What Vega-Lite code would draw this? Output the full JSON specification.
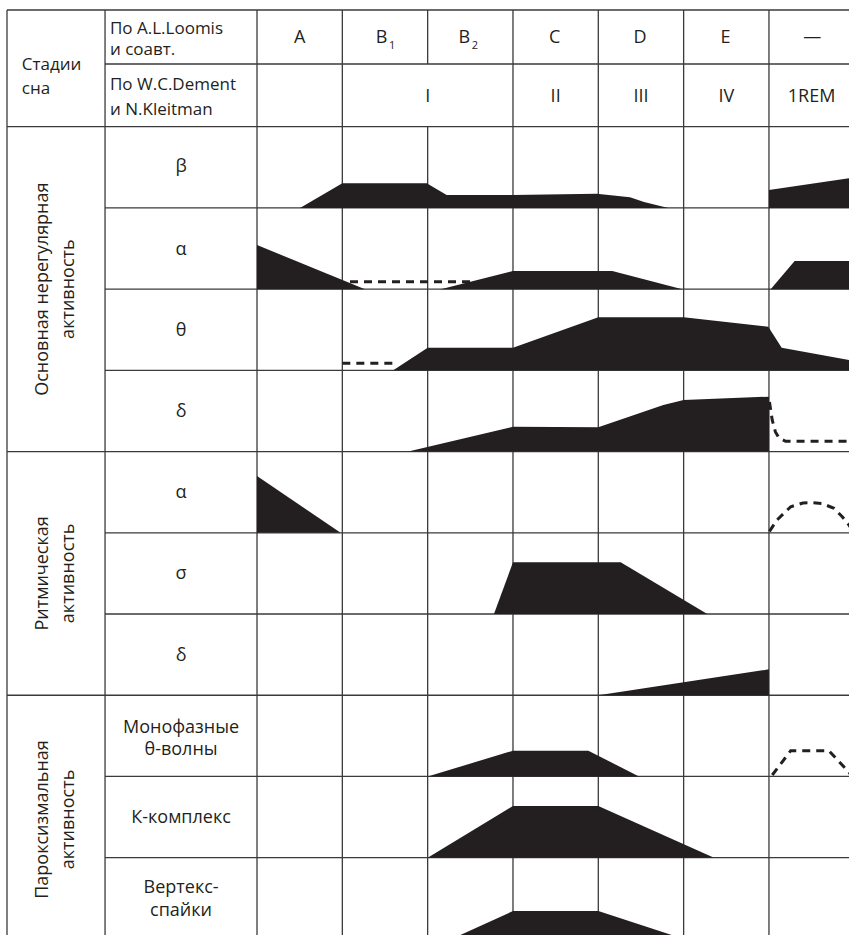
{
  "$schema": "https://vega.github.io/schema/vega-lite/v6.json",
  "width": 849,
  "height": 935,
  "autosize": {"type": "fit", "contains": "padding"},
  "padding": 0,
  "background": "white",
  "config": {"view": {"stroke": null}},
  "datasets": {
    "grid": [
      {"x": -2.93, "x2": 7, "y": -1.437, "y2": -1.437},
      {"x": -1.781, "x2": 7, "y": -0.772, "y2": -0.772},
      {"x": -2.93, "x2": 7, "y": 0, "y2": 0},
      {"x": -1.781, "x2": 7, "y": 1, "y2": 1},
      {"x": -1.781, "x2": 7, "y": 2, "y2": 2},
      {"x": -1.781, "x2": 7, "y": 3, "y2": 3},
      {"x": -2.93, "x2": 7, "y": 4, "y2": 4},
      {"x": -1.781, "x2": 7, "y": 5, "y2": 5},
      {"x": -1.781, "x2": 7, "y": 6, "y2": 6},
      {"x": -2.93, "x2": 7, "y": 7, "y2": 7},
      {"x": -1.781, "x2": 7, "y": 8, "y2": 8},
      {"x": -1.781, "x2": 7, "y": 9, "y2": 9},
      {"x": -2.93, "x2": -2.93, "y": -1.437, "y2": 10},
      {"x": -1.781, "x2": -1.781, "y": -1.437, "y2": 10},
      {"x": 0, "x2": 0, "y": -1.437, "y2": 10},
      {"x": 1, "x2": 1, "y": -1.437, "y2": 10},
      {"x": 2, "x2": 2, "y": -1.437, "y2": -0.772},
      {"x": 2, "x2": 2, "y": 0, "y2": 10},
      {"x": 3, "x2": 3, "y": -1.437, "y2": 10},
      {"x": 4, "x2": 4, "y": -1.437, "y2": 10},
      {"x": 5, "x2": 5, "y": -1.437, "y2": 10},
      {"x": 6, "x2": 6, "y": -1.437, "y2": 10}
    ],
    "areas": [
      {"id": "beta", "u": 0.504, "v": 1, "b": 1},
      {"id": "beta", "u": 1.0, "v": 0.697, "b": 1},
      {"id": "beta", "u": 1.989, "v": 0.697, "b": 1},
      {"id": "beta", "u": 2.223, "v": 0.841, "b": 1},
      {"id": "beta", "u": 3.0, "v": 0.841, "b": 1},
      {"id": "beta", "u": 3.981, "v": 0.825, "b": 1},
      {"id": "beta", "u": 4.371, "v": 0.869, "b": 1},
      {"id": "beta", "u": 4.536, "v": 0.927, "b": 1},
      {"id": "beta", "u": 4.82, "v": 1, "b": 1},
      {"id": "betaREM", "u": 6.0, "v": 0.779, "b": 1},
      {"id": "betaREM", "u": 7.0, "v": 0.625, "b": 1},
      {"id": "alphaA", "u": 0, "v": 1.457, "b": 2},
      {"id": "alphaA", "u": 1.266, "v": 2, "b": 2},
      {"id": "alphaMid", "u": 2.153, "v": 2, "b": 2},
      {"id": "alphaMid", "u": 3.0, "v": 1.777, "b": 2},
      {"id": "alphaMid", "u": 4.164, "v": 1.777, "b": 2},
      {"id": "alphaMid", "u": 4.984, "v": 2, "b": 2},
      {"id": "alphaREM", "u": 6.02, "v": 2, "b": 2},
      {"id": "alphaREM", "u": 6.301, "v": 1.654, "b": 2},
      {"id": "alphaREM", "u": 7.0, "v": 1.654, "b": 2},
      {"id": "theta", "u": 1.597, "v": 3, "b": 3},
      {"id": "theta", "u": 2.0, "v": 2.721, "b": 3},
      {"id": "theta", "u": 3.0, "v": 2.721, "b": 3},
      {"id": "theta", "u": 4.0, "v": 2.347, "b": 3},
      {"id": "theta", "u": 5.0, "v": 2.347, "b": 3},
      {"id": "theta", "u": 5.992, "v": 2.462, "b": 3},
      {"id": "theta", "u": 6.149, "v": 2.721, "b": 3},
      {"id": "theta", "u": 7.0, "v": 2.884, "b": 3},
      {"id": "delta", "u": 1.773, "v": 4, "b": 4},
      {"id": "delta", "u": 3.0, "v": 3.694, "b": 4},
      {"id": "delta", "u": 4.0, "v": 3.701, "b": 4},
      {"id": "delta", "u": 4.762, "v": 3.427, "b": 4},
      {"id": "delta", "u": 5.0, "v": 3.365, "b": 4},
      {"id": "delta", "u": 6.0, "v": 3.324, "b": 4},
      {"id": "rAlpha", "u": 0, "v": 4.301, "b": 5},
      {"id": "rAlpha", "u": 0.98, "v": 5, "b": 5},
      {"id": "sigma", "u": 2.777, "v": 6, "b": 6},
      {"id": "sigma", "u": 3.0, "v": 5.363, "b": 6},
      {"id": "sigma", "u": 4.262, "v": 5.363, "b": 6},
      {"id": "sigma", "u": 5.277, "v": 6, "b": 6},
      {"id": "rDelta", "u": 4.0, "v": 7, "b": 7},
      {"id": "rDelta", "u": 6.0, "v": 6.681, "b": 7},
      {"id": "mono", "u": 2.0, "v": 8, "b": 8},
      {"id": "mono", "u": 3.0, "v": 7.683, "b": 8},
      {"id": "mono", "u": 3.883, "v": 7.683, "b": 8},
      {"id": "mono", "u": 4.477, "v": 8, "b": 8},
      {"id": "kcomp", "u": 2.0, "v": 9, "b": 9},
      {"id": "kcomp", "u": 3.0, "v": 8.364, "b": 9},
      {"id": "kcomp", "u": 4.0, "v": 8.364, "b": 9},
      {"id": "kcomp", "u": 5.356, "v": 9, "b": 9},
      {"id": "vertex", "u": 2.283, "v": 10, "b": 10},
      {"id": "vertex", "u": 3.0, "v": 9.657, "b": 10},
      {"id": "vertex", "u": 4.0, "v": 9.657, "b": 10},
      {"id": "vertex", "u": 5.0, "v": 10, "b": 10}
    ],
    "dashes": [
      {"id": "d1", "u": 1.09, "v": 1.908},
      {"id": "d1", "u": 2.504, "v": 1.908},
      {"id": "d2", "u": 1.0, "v": 2.913},
      {"id": "d2", "u": 1.65, "v": 2.913},
      {"id": "d3", "u": 6.006, "v": 3.389},
      {"id": "d3", "u": 6.038, "v": 3.611},
      {"id": "d3", "u": 6.076, "v": 3.759},
      {"id": "d3", "u": 6.117, "v": 3.833},
      {"id": "d3", "u": 6.195, "v": 3.873},
      {"id": "d3", "u": 7.0, "v": 3.873},
      {"id": "d4", "u": 6.006, "v": 4.982},
      {"id": "d4", "u": 6.094, "v": 4.842},
      {"id": "d4", "u": 6.255, "v": 4.679},
      {"id": "d4", "u": 6.399, "v": 4.633},
      {"id": "d4", "u": 6.505, "v": 4.629},
      {"id": "d4", "u": 6.622, "v": 4.639},
      {"id": "d4", "u": 6.762, "v": 4.698},
      {"id": "d4", "u": 6.859, "v": 4.802},
      {"id": "d4", "u": 6.938, "v": 4.904},
      {"id": "d4", "u": 6.985, "v": 4.99},
      {"id": "d5", "u": 6.039, "v": 7.982},
      {"id": "d5", "u": 6.255, "v": 7.683},
      {"id": "d5", "u": 6.703, "v": 7.683},
      {"id": "d5", "u": 6.938, "v": 7.949},
      {"id": "d5", "u": 6.97, "v": 7.99}
    ],
    "hdrLeft": [
      {"x": -2.757, "y": -0.698, "t": "Стадии"},
      {"x": -2.757, "y": -0.399, "t": "сна"},
      {"x": -1.723, "y": -1.145, "t": "По A.L.Loomis"},
      {"x": -1.723, "y": -0.88, "t": "и соавт."},
      {"x": -1.723, "y": -0.45, "t": "По W.C.Dement"},
      {"x": -1.723, "y": -0.14, "t": "и N.Kleitman"}
    ],
    "hdrCenter": [
      {"x": 0.5, "y": -1.034, "t": "A"},
      {"x": 1.46, "y": -1.034, "t": "B"},
      {"x": 2.43, "y": -1.034, "t": "B"},
      {"x": 3.489, "y": -1.034, "t": "C"},
      {"x": 4.488, "y": -1.034, "t": "D"},
      {"x": 5.49, "y": -1.034, "t": "E"},
      {"x": 6.508, "y": -1.034, "t": "—"},
      {"x": 2.0, "y": -0.308, "t": "I"},
      {"x": 3.5, "y": -0.308, "t": "II"},
      {"x": 4.5, "y": -0.308, "t": "III"},
      {"x": 5.5, "y": -0.308, "t": "IV"},
      {"x": 6.5, "y": -0.308, "t": "1REM"}
    ],
    "subs": [
      {"x": 1.585, "y": -0.96, "t": "1"},
      {"x": 2.553, "y": -0.96, "t": "2"}
    ],
    "rowLabels": [
      {"x": -0.89, "y": 0.492, "t": "β"},
      {"x": -0.89, "y": 1.518, "t": "α"},
      {"x": -0.89, "y": 2.512, "t": "θ"},
      {"x": -0.89, "y": 3.509, "t": "δ"},
      {"x": -0.89, "y": 4.506, "t": "α"},
      {"x": -0.89, "y": 5.511, "t": "σ"},
      {"x": -0.89, "y": 6.517, "t": "δ"},
      {"x": -0.89, "y": 7.407, "t": "Монофазные"},
      {"x": -0.89, "y": 7.674, "t": "θ-волны"},
      {"x": -0.89, "y": 8.515, "t": "К-комплекс"},
      {"x": -0.89, "y": 9.377, "t": "Вертекс-"},
      {"x": -0.89, "y": 9.657, "t": "спайки"}
    ],
    "sections": [
      {"x": -2.504, "y": 2.0, "t": "Основная нерегулярная"},
      {"x": -2.203, "y": 2.0, "t": "активность"},
      {"x": -2.504, "y": 5.5, "t": "Ритмическая"},
      {"x": -2.203, "y": 5.5, "t": "активность"},
      {"x": -2.504, "y": 8.53, "t": "Пароксизмальная"},
      {"x": -2.203, "y": 8.53, "t": "активность"}
    ]
  },
  "encoding": {
    "x": {"type": "quantitative", "scale": {"domain": [-3.012, 6.938], "nice": false, "zero": false}, "axis": null},
    "y": {"type": "quantitative", "scale": {"domain": [-1.56, 9.952], "nice": false, "zero": false, "reverse": true}, "axis": null}
  },
  "layer": [
    {
      "data": {"name": "grid"},
      "mark": {"type": "rule", "stroke": "#3a3a3a", "strokeWidth": 1.3, "clip": true},
      "encoding": {
        "x": {"field": "x", "type": "quantitative"},
        "x2": {"field": "x2"},
        "y": {"field": "y", "type": "quantitative"},
        "y2": {"field": "y2"}
      }
    },
    {
      "data": {"name": "areas"},
      "mark": {"type": "area", "fill": "#231f20", "clip": true, "interpolate": "linear"},
      "encoding": {
        "x": {"field": "u", "type": "quantitative"},
        "y": {"field": "v", "type": "quantitative"},
        "y2": {"field": "b"},
        "detail": {"field": "id", "type": "nominal"}
      }
    },
    {
      "data": {"name": "dashes"},
      "mark": {"type": "line", "stroke": "#231f20", "strokeWidth": 3, "strokeDash": [8, 6], "clip": true},
      "encoding": {
        "x": {"field": "u", "type": "quantitative"},
        "y": {"field": "v", "type": "quantitative"},
        "detail": {"field": "id", "type": "nominal"}
      }
    },
    {
      "data": {"name": "hdrLeft"},
      "mark": {"type": "text", "align": "left", "baseline": "alphabetic", "font": "Open Sans", "fontSize": 17, "fill": "#231f20"},
      "encoding": {
        "x": {"field": "x", "type": "quantitative"},
        "y": {"field": "y", "type": "quantitative"},
        "text": {"field": "t"}
      }
    },
    {
      "data": {"name": "hdrCenter"},
      "mark": {"type": "text", "align": "center", "baseline": "alphabetic", "font": "Open Sans", "fontSize": 18, "fill": "#231f20"},
      "encoding": {
        "x": {"field": "x", "type": "quantitative"},
        "y": {"field": "y", "type": "quantitative"},
        "text": {"field": "t"}
      }
    },
    {
      "data": {"name": "subs"},
      "mark": {"type": "text", "align": "center", "baseline": "alphabetic", "font": "Open Sans", "fontSize": 11, "fill": "#231f20"},
      "encoding": {
        "x": {"field": "x", "type": "quantitative"},
        "y": {"field": "y", "type": "quantitative"},
        "text": {"field": "t"}
      }
    },
    {
      "data": {"name": "rowLabels"},
      "mark": {"type": "text", "align": "center", "baseline": "middle", "font": "Open Sans", "fontSize": 18, "fill": "#231f20"},
      "encoding": {
        "x": {"field": "x", "type": "quantitative"},
        "y": {"field": "y", "type": "quantitative"},
        "text": {"field": "t"}
      }
    },
    {
      "data": {"name": "sections"},
      "mark": {"type": "text", "align": "center", "baseline": "middle", "angle": 270, "font": "Open Sans", "fontSize": 18, "fill": "#231f20"},
      "encoding": {
        "x": {"field": "x", "type": "quantitative"},
        "y": {"field": "y", "type": "quantitative"},
        "text": {"field": "t"}
      }
    }
  ]
}
